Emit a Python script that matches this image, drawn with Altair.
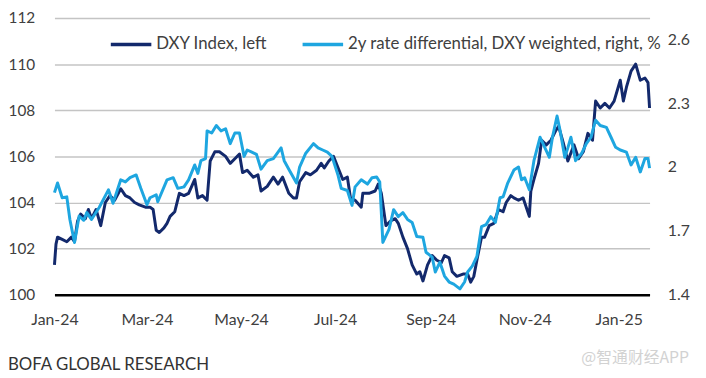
import altair as alt
import pandas as pd

# ---------------- data ----------------
dxy_dates = [
    "2024-01-01", "2024-01-02", "2024-01-03", "2024-01-06", "2024-01-09", "2024-01-12", "2024-01-14",
    "2024-01-16", "2024-01-18", "2024-01-21", "2024-01-23", "2024-01-25", "2024-01-28", "2024-01-31",
    "2024-02-03", "2024-02-06", "2024-02-09", "2024-02-13", "2024-02-16", "2024-02-19", "2024-02-22",
    "2024-02-25", "2024-02-29", "2024-03-03", "2024-03-05", "2024-03-07", "2024-03-09", "2024-03-12",
    "2024-03-14", "2024-03-16", "2024-03-19", "2024-03-22", "2024-03-25", "2024-03-28", "2024-04-01",
    "2024-04-03", "2024-04-06", "2024-04-09", "2024-04-11", "2024-04-14", "2024-04-17", "2024-04-21",
    "2024-04-24", "2024-04-27", "2024-04-30", "2024-05-02", "2024-05-05", "2024-05-09", "2024-05-12",
    "2024-05-14", "2024-05-18", "2024-05-22", "2024-05-25", "2024-05-28", "2024-06-01", "2024-06-04",
    "2024-06-06", "2024-06-08", "2024-06-12", "2024-06-15", "2024-06-19", "2024-06-22", "2024-06-24",
    "2024-06-27", "2024-06-30", "2024-07-03", "2024-07-06", "2024-07-09", "2024-07-11", "2024-07-14",
    "2024-07-18", "2024-07-19", "2024-07-23", "2024-07-27", "2024-07-29", "2024-07-31", "2024-08-03",
    "2024-08-06", "2024-08-09", "2024-08-11", "2024-08-14", "2024-08-17", "2024-08-20", "2024-08-23",
    "2024-08-25", "2024-08-27", "2024-08-30", "2024-09-02", "2024-09-05", "2024-09-08", "2024-09-10",
    "2024-09-13", "2024-09-15", "2024-09-18", "2024-09-22", "2024-09-25", "2024-09-27", "2024-09-29",
    "2024-10-01", "2024-10-04", "2024-10-06", "2024-10-09", "2024-10-12", "2024-10-15", "2024-10-18",
    "2024-10-20", "2024-10-23", "2024-10-25", "2024-10-28", "2024-10-31", "2024-11-04", "2024-11-05",
    "2024-11-07", "2024-11-10", "2024-11-12", "2024-11-15", "2024-11-18", "2024-11-21", "2024-11-23",
    "2024-11-26", "2024-11-29", "2024-12-03", "2024-12-06", "2024-12-09", "2024-12-12", "2024-12-15",
    "2024-12-17", "2024-12-20", "2024-12-23", "2024-12-26", "2024-12-29", "2025-01-02", "2025-01-04",
    "2025-01-06", "2025-01-09", "2025-01-12", "2025-01-15", "2025-01-18", "2025-01-20", "2025-01-21",
]
dxy_values = [
    101.3, 102.2, 102.5, 102.4, 102.3, 102.5, 102.3,
    103.2, 103.5, 103.3, 103.7, 103.3, 103.7, 103.0,
    104.0, 104.3, 104.1, 104.6, 104.3, 104.2, 104.0,
    103.9, 103.8, 103.8, 103.7, 102.8, 102.7, 102.9,
    103.1, 103.4, 103.6, 104.4, 104.3, 104.4, 105.0,
    104.2, 104.3, 104.1, 105.8, 106.2, 106.2, 106.0,
    105.7, 105.9, 106.1, 105.3, 105.4, 105.1, 105.2,
    104.5, 104.7, 105.1, 104.8, 105.1, 104.4, 104.2,
    104.2, 104.9, 105.3, 105.2, 105.4, 105.7, 105.5,
    105.8, 106.0, 105.5, 105.0, 105.1, 104.2, 104.1,
    103.8, 104.4, 104.4, 104.5, 104.8, 104.4, 103.0,
    103.2, 103.3, 103.1, 102.5, 102.0, 101.3, 100.9,
    101.0, 100.6, 101.3, 101.7, 101.5, 101.4, 101.7,
    101.6, 101.0, 100.8, 100.9, 100.9, 100.55, 100.8,
    101.5, 102.5, 102.5, 103.0, 103.1, 103.7, 103.6,
    104.0, 104.3, 104.2, 104.1, 104.2, 103.4, 104.5,
    105.0, 105.7, 106.7, 106.5, 106.7, 107.1, 107.3,
    106.6, 105.8, 106.5, 105.9, 106.2, 107.0, 106.7,
    108.4, 108.1, 108.3, 108.1, 108.4, 109.3, 108.4,
    109.0, 109.7, 110.0, 109.3, 109.4, 109.2, 108.1,
]

rate_dates = [
    "2024-01-01", "2024-01-03", "2024-01-06", "2024-01-09", "2024-01-11", "2024-01-14", "2024-01-17",
    "2024-01-20", "2024-01-22", "2024-01-25", "2024-01-30", "2024-02-05", "2024-02-08", "2024-02-13",
    "2024-02-16", "2024-02-19", "2024-02-23", "2024-02-26", "2024-03-01", "2024-03-03", "2024-03-07",
    "2024-03-08", "2024-03-14", "2024-03-18", "2024-03-21", "2024-03-25", "2024-03-28", "2024-04-01",
    "2024-04-03", "2024-04-05", "2024-04-08", "2024-04-09", "2024-04-12", "2024-04-15", "2024-04-18",
    "2024-04-21", "2024-04-24", "2024-04-27", "2024-04-30", "2024-05-03", "2024-05-05", "2024-05-08",
    "2024-05-11", "2024-05-14", "2024-05-18", "2024-05-22", "2024-05-27", "2024-05-29", "2024-06-01",
    "2024-06-06", "2024-06-08", "2024-06-12", "2024-06-17", "2024-06-20", "2024-06-23", "2024-06-26",
    "2024-06-29", "2024-07-03", "2024-07-05", "2024-07-09", "2024-07-12", "2024-07-14", "2024-07-18",
    "2024-07-22", "2024-07-25", "2024-07-28", "2024-07-30", "2024-08-01", "2024-08-05", "2024-08-08",
    "2024-08-11", "2024-08-14", "2024-08-17", "2024-08-20", "2024-08-23", "2024-08-27", "2024-08-29",
    "2024-09-02", "2024-09-04", "2024-09-07", "2024-09-10", "2024-09-13", "2024-09-16", "2024-09-20",
    "2024-09-23", "2024-09-25", "2024-09-28", "2024-10-01", "2024-10-04", "2024-10-07", "2024-10-10",
    "2024-10-13", "2024-10-16", "2024-10-18", "2024-10-21", "2024-10-25", "2024-10-28", "2024-10-30",
    "2024-11-01", "2024-11-04", "2024-11-07", "2024-11-11", "2024-11-14", "2024-11-17", "2024-11-19",
    "2024-11-22", "2024-11-24", "2024-11-27", "2024-11-29", "2024-12-01", "2024-12-04", "2024-12-08",
    "2024-12-11", "2024-12-14", "2024-12-17", "2024-12-20", "2024-12-24", "2024-12-27", "2024-12-30",
    "2025-01-02", "2025-01-06", "2025-01-09", "2025-01-12", "2025-01-15", "2025-01-18", "2025-01-20",
    "2025-01-21",
]
rate_values = [
    1.88, 1.925, 1.856, 1.86, 1.754, 1.646, 1.77,
    1.75, 1.786, 1.754, 1.81, 1.893, 1.83, 1.94,
    1.93, 1.95, 1.963, 1.90, 1.823, 1.856, 1.87,
    1.837, 1.94, 1.95, 1.90, 1.907, 1.94, 2.01,
    1.97, 2.03, 2.04, 2.17, 2.16, 2.195, 2.17,
    2.18, 2.11, 2.16, 2.16, 2.05, 2.08, 2.07,
    2.06, 1.99, 2.03, 2.04, 2.09, 2.03, 1.99,
    1.925, 2.0, 2.065, 2.11, 2.09, 2.08, 2.07,
    2.05, 1.96, 1.90, 1.89, 1.82, 1.907, 1.94,
    1.92, 1.95, 1.953, 1.93, 1.646, 1.707, 1.80,
    1.767, 1.786, 1.754, 1.74, 1.674, 1.67, 1.60,
    1.577, 1.507, 1.553, 1.488, 1.46, 1.45, 1.428,
    1.46, 1.507, 1.535, 1.58, 1.72, 1.73, 1.767,
    1.74, 1.856, 1.86, 1.925, 1.986, 2.0, 1.94,
    1.95, 1.893, 2.03, 2.14, 2.093, 2.046, 2.14,
    2.24, 2.17, 2.046, 2.09, 2.14, 2.03, 2.065,
    2.11, 2.14, 2.22, 2.195, 2.186, 2.14, 2.093,
    2.08, 2.07, 2.01, 2.046, 1.977, 2.04, 2.04,
    1.995,
]

series_names = ["DXY Index, left", "2y rate differential, DXY weighted, right, %"]
series_colors = ["#13296c", "#1ea6e0"]

x_tick_dates = ["2024-01-01", "2024-03-01", "2024-05-01", "2024-07-01",
                "2024-09-01", "2024-11-01", "2025-01-01"]
x_domain = ["2024-01-01", "2025-01-21"]
left_ticks = [100, 102, 104, 106, 108, 110, 112]
left_domain = [100, 112]
right_ticks = [1.4, 1.7, 2.0, 2.3, 2.6]
right_domain = [1.4, 2.7]

source_text = "BOFA GLOBAL RESEARCH"
watermark_text = "@智通财经APP"

# ---------------- chart ----------------
FONT = "Lato"
LABEL_COLOR = "#404040"


def dt(s):
    y, m, d = (int(p) for p in s.split("-"))
    return alt.DateTime(year=y, month=m, date=d, utc=True)


df_dxy = pd.DataFrame({"date": dxy_dates, "value": dxy_values, "series": series_names[0]})
df_rate = pd.DataFrame({"date": rate_dates, "value": rate_values, "series": series_names[1]})

x_enc = alt.X(
    "date:T",
    scale=alt.Scale(type="utc", domain=[dt(s) for s in x_domain]),
    axis=alt.Axis(
        values=[dt(s) for s in x_tick_dates],
        labelExpr="utcFormat(datum.value, '%b-%y')",
        labelFlush=False, labelOverlap=False,
        domain=False, ticks=False, grid=False, labelFont=FONT, labelFontSize=16,
        labelColor=LABEL_COLOR, labelPadding=17, title=None,
    ),
)

color_enc = alt.Color(
    "series:N",
    scale=alt.Scale(domain=series_names, range=series_colors),
    legend=alt.Legend(
        orient="none", legendX=55, legendY=4, direction="horizontal", title=None,
        symbolType="stroke", symbolSize=1681, symbolStrokeWidth=3.5,
        labelFont=FONT, labelFontSize=17, labelColor=LABEL_COLOR,
        labelOffset=3, columnPadding=28, labelLimit=500,
    ),
)

dxy_line = alt.Chart(df_dxy).mark_line(strokeWidth=3, strokeJoin="round").encode(
    x=x_enc,
    y=alt.Y(
        "value:Q",
        scale=alt.Scale(domain=left_domain, nice=False, zero=False),
        axis=alt.Axis(
            orient="left", values=left_ticks, domain=False, ticks=False, grid=True,
            gridColor={"condition": {"test": "datum.value === 100", "value": "#000000"}, "value": "#c4c4c4"},
            gridWidth={"condition": {"test": "datum.value === 100", "value": 2.5}, "value": 1.5},
            labelFont=FONT, labelFontSize=15.5, labelColor=LABEL_COLOR, labelPadding=20, title=None,
        ),
    ),
    color=color_enc,
)

rate_line = alt.Chart(df_rate).mark_line(strokeWidth=3, strokeJoin="round").encode(
    x=x_enc,
    y=alt.Y(
        "value:Q",
        scale=alt.Scale(domain=right_domain, nice=False, zero=False),
        axis=alt.Axis(
            orient="right", values=right_ticks, format="~g", domain=False, ticks=False, grid=False,
            labelFont=FONT, labelFontSize=16, labelColor=LABEL_COLOR, labelPadding=18, title=None,
        ),
    ),
    color=color_enc,
)

source = alt.Chart(pd.DataFrame({"t": [source_text]})).mark_text(
    align="left", baseline="alphabetic", font=FONT, fontSize=17, color="#333333"
).encode(text="t:N", x=alt.value(-47), y=alt.value(356))

watermark = alt.Chart(pd.DataFrame({"t": [watermark_text]})).mark_text(
    align="left", baseline="middle", font="Noto Sans CJK SC", fontSize=16, color="#d2d2d2"
).encode(text="t:N", x=alt.value(533), y=alt.value(344))

chart = (
    alt.layer(dxy_line, rate_line, source, watermark)
    .resolve_scale(y="independent")
    .properties(
        width=602, height=280,
        autosize=alt.AutoSizeParams(type="none"),
        padding={"left": 47, "top": 8, "right": 49, "bottom": 80},
        background="white",
    )
    .configure_view(stroke=None)
)

chart.save("out.html", embed_options={"renderer": "svg", "actions": False})
